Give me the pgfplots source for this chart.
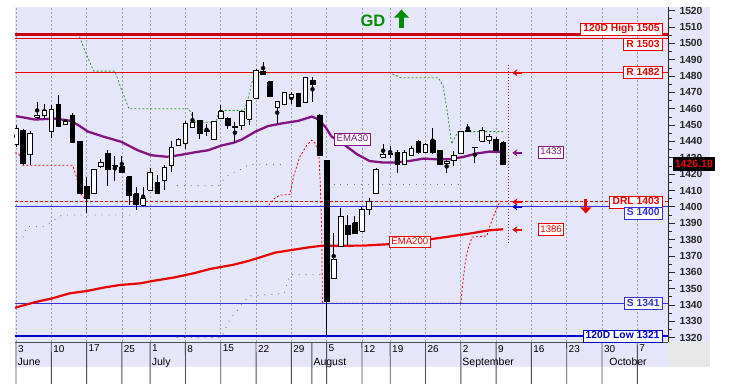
\documentclass[border=0pt]{standalone}
\usepackage{fontspec}
\setmainfont{Liberation Sans}
\usepackage{pgfplots}
\usepackage{pgfplotstable}
\pgfplotsset{compat=1.18}
\usetikzlibrary{arrows.meta}
\definecolor{lav}{RGB}{230,230,250}
\definecolor{cornergrey}{RGB}{232,232,232}
\definecolor{emapurple}{RGB}{130,20,130}
\definecolor{lred}{RGB}{235,0,0}
\definecolor{hred}{RGB}{205,0,20}
\definecolor{lblue}{RGB}{50,50,215}
\definecolor{dblue}{RGB}{0,0,200}
\definecolor{ggreen}{RGB}{40,150,40}
\definecolor{gdgreen}{RGB}{0,140,0}
\definecolor{bandgrey}{RGB}{110,110,170}
\definecolor{gridgrey}{RGB}{160,160,170}

\pgfplotstableread{
k o h l c
0 1438 1450 1436.5 1448
1 1447 1447.5 1425.5 1426.5
2 1432 1446.5 1425.5 1445
3 1455 1464 1454 1456
4 1456 1463 1454 1459
5 1446 1462 1442 1459.6
6 1462.6 1468.3 1449 1449.4
7 1450.6 1454 1450 1452
8 1456 1457.5 1439 1439.2
9 1440 1440 1408 1408.2
10 1412.7 1418.4 1396.4 1405.1
11 1408.2 1423 1408 1422.9
12 1424.5 1429 1423.5 1427.5
13 1432.6 1435 1412.7 1423
14 1425 1431 1416 1425.5
15 1424.5 1431 1421.4 1421.4
16 1418.4 1418.4 1401 1407.2
17 1408 1412 1398 1401.7
18 1401 1412 1400.5 1405
19 1410 1424 1409.8 1421.4
20 1414.7 1419.4 1408 1408.2
21 1416 1425.5 1410.2 1424
22 1425.5 1440 1421.4 1436.3
23 1437.7 1442 1437.5 1441.2
24 1439 1452.7 1435.4 1451
25 1448.7 1458 1448 1451.7
26 1452.7 1452.7 1441.5 1445.2
27 1446 1450.7 1443.6 1446.5
28 1441.5 1452.5 1441 1452.3
29 1454.2 1462.3 1453.8 1458.2
30 1454.2 1455 1447.7 1450
31 1448.5 1451.7 1439 1449.1
32 1449.7 1458.5 1447.2 1458.2
33 1453.8 1465.5 1450 1465
34 1466.3 1484.6 1466 1483.6
35 1483 1488.7 1481 1481.2
36 1476.5 1476.5 1467 1467.3
37 1460.9 1464.5 1450.7 1464.4
38 1462.7 1470 1462.5 1470
39 1466.7 1470 1463.2 1468.7
40 1469.3 1469.5 1461 1461.2
41 1464 1479 1463.5 1479
42 1477.4 1479.5 1464.3 1474.8
43 1456.2 1456.5 1431 1431.3
44 1428.3 1428.3 1321.5 1342
45 1356 1384 1355.7 1368
46 1376 1399 1376 1394
47 1388.4 1395 1376 1383
48 1390.4 1394.5 1383.5 1383.7
49 1385 1400 1385 1398.6
50 1398.2 1405.3 1395 1403.2
51 1408 1423.5 1408 1423
52 1430.2 1438.7 1430 1432.2
53 1432 1437 1430 1433
54 1433.2 1434.6 1421 1426
55 1425.7 1434.6 1425.5 1433.2
56 1431.2 1437.3 1431 1435.9
57 1439.9 1440.8 1432.6 1433.2
58 1433.2 1439 1433 1438.3
59 1440.8 1448.5 1432.6 1433.2
60 1434.6 1435 1426 1426.1
61 1426.5 1428.5 1421 1428.1
62 1428.5 1434.2 1425 1431.2
63 1432.6 1446.5 1432.5 1446
64 1446 1450.5 1445.5 1446.5
65 1436.3 1436.8 1427 1436.6
66 1440 1449 1440 1447
67 1440.8 1444.8 1438.7 1443.4
68 1441.4 1442.8 1434.5 1434.6
69 1439.3 1440.4 1426 1426.1
}\ohlc

\pgfplotstableread{
k v
0 1455.5
2.7 1453.4
5.5 1454
7.8 1452.6
9 1449.5
10.2 1446
12.5 1442.8
14.9 1439.8
17.2 1434.7
19.1 1431.6
21.4 1430.6
23.1 1431.6
25.4 1433.4
27.2 1434.6
29.1 1437.5
30.8 1439.2
32 1441.2
33.9 1446
35.7 1449.4
37.6 1451
40 1452.6
41.9 1455.2
42.6 1454
43.8 1449
44.7 1443
46.4 1438.3
48.3 1432.2
50.1 1428
52 1427.1
53.9 1427.1
55.8 1428.1
57.7 1429.5
59.6 1429.1
61.5 1429.1
63.4 1430.6
65.2 1432.6
67.1 1433.8
69 1433.6
}\emathirty

\pgfplotstableread{
k v
-0.14 1338.3
2.6 1341.6
5.1 1344
7.6 1347.1
10 1348.5
12.4 1350.6
14.7 1352.2
17.6 1353.2
19.4 1354.7
22.4 1356.8
25.1 1359.3
27.5 1362
30.8 1364.6
33 1367
36.7 1372
41.4 1375.2
43.3 1376.2
45 1376.2
49.2 1376.3
53 1377.2
57.7 1379.6
61 1381.6
64.3 1383.7
67.1 1385.7
69 1386.3
}\ematwohundred

\pgfplotstableread{
k v
9 1504
10 1493
11 1483
14 1483
15 1471
16 1460
24.5 1460
25.3 1452
28.3 1451.5
28.8 1459
32.3 1459
32.8 1465
33.4 1476
33.9 1482
53 1482
54.5 1479
59.8 1479
60.5 1474
61.2 1455
61.7 1438.5
62.6 1446
69 1446
}\greenstop

\begin{document}
\begin{tikzpicture}
\fill[lav] (0pt,-25pt) rectangle (695pt,335pt);
\fill[cornergrey] (653pt,-25pt) rectangle (695pt,0pt);
\path[use as bounding box] (-15pt,-41pt) rectangle (716pt,342pt);
\begin{axis}[
  at={(0pt,0pt)}, anchor=south west,
  scale only axis, width=653pt, height=335pt,
  xmin=-0.14, xmax=92.35, ymin=1317.3, ymax=1522.2,
  clip mode=individual,
  axis y line*=right, axis x line*=bottom,
  y axis line style={black!85, line width=0.8pt},
  x axis line style={black!70, line width=0.9pt},
  tick align=outside,
  ytick={1320,1330,...,1520},
  minor y tick num=1,
  major tick length=7pt, minor tick length=4pt,
  ytick style={black!85, line width=0.7pt},
  yticklabel style={font=\fontsize{10.3}{12}\selectfont\bfseries, text=black!85, anchor=west, xshift=1pt},
  /pgf/number format/assume math mode=true,
  /pgf/number format/1000 sep={},
  xtick={0,5,10,15,19,24,29,34,39,44,49,53,58,63,68,73,78,83,88},
  xticklabels={3,10,17,25,1,8,15,22,29,5,12,19,26,2,9,16,23,30,7},
  x tick style={draw=none},
  xticklabel style={font=\fontsize{10}{12}\selectfont, anchor=north west, xshift=-1.5pt, yshift=7.5pt},
  xmajorgrids,
  major grid style={gridgrey, dash pattern=on 2pt off 2pt, line width=0.6pt},
]
% grey channel dots
\addplot[bandgrey, line width=0.9pt, dash pattern=on 0.9pt off 6pt] coordinates {(0,1381.5) (1,1381.5) (1.5,1388) (4,1388) (6.5,1395) (17,1395)};
\addplot[bandgrey, line width=0.9pt, dash pattern=on 0.9pt off 6pt] coordinates {(22.8,1413) (28.7,1413) (29.8,1418.7) (30.8,1421) (32,1423.2) (33,1426) (38,1426)};
\addplot[bandgrey, line width=0.9pt, dash pattern=on 0.9pt off 6pt] coordinates {(44,1413.5) (63,1413.5)};
\addplot[bandgrey, line width=0.9pt, dash pattern=on 0.9pt off 6pt] coordinates {(22.8,1320) (29.1,1320) (30.3,1331.3) (31.3,1336.4) (32,1340.5) (33,1345.5) (38,1347) (38.8,1358.5) (43.1,1358.5)};
\addplot[bandgrey, line width=0.9pt, dash pattern=on 0.9pt off 6pt] coordinates {(44,1321) (63,1321)};
% red trailing stop
\addplot[lred, line width=0.8pt, dash pattern=on 2pt off 2pt] coordinates {(-0.14,1433) (0.4,1432.5) (0.9,1425.5) (8,1425.5) (8.6,1418) (9.1,1408.5) (9.8,1404.5) (10.3,1403)};
\addplot[lred, line width=0.8pt, dash pattern=on 2pt off 2pt] coordinates {(35.8,1401) (36.5,1404.8) (37.4,1407.2) (38.8,1407.5) (39.3,1418.4) (40.2,1430.6) (41.2,1437.8) (41.9,1440.8) (42.4,1438.8) (42.9,1431.7) (43.1,1414.3) (43.3,1385.8) (43.4,1341) (63,1341) (63.2,1350) (63.6,1365) (64,1374) (64.6,1381.5) (66.7,1382.2) (67.1,1388) (67.8,1396) (68.6,1403.7)};
% green trailing stop
\addplot[ggreen, line width=0.8pt, dash pattern=on 2pt off 2pt] table[x=k,y=v]{\greenstop};
% horizontal levels
\addplot[hred, line width=2.6pt] coordinates {(-0.14,1505.4) (92.35,1505.4)};
\addplot[lred, line width=1pt] coordinates {(-0.14,1503) (92.35,1503)};
\addplot[lred, line width=1pt] coordinates {(-0.14,1482) (92.35,1482)};
\addplot[lred, line width=0.9pt, dash pattern=on 3pt off 2pt] coordinates {(-0.14,1403) (92.35,1403)};
\addplot[lblue, line width=0.9pt] coordinates {(-0.14,1400) (92.35,1400)};
\addplot[lblue, line width=0.9pt] coordinates {(-0.14,1341) (92.35,1341)};
\addplot[dblue, line width=2pt] coordinates {(-0.14,1321) (92.35,1321)};
% moving averages
\addplot[lred, line width=2.2pt] table[x=k,y=v]{\ematwohundred};
\addplot[emapurple, line width=2.3pt] table[x=k,y=v]{\emathirty};
% projection line
\addplot[emapurple, line width=1pt, dash pattern=on 1pt off 2pt] coordinates {(69.75,1378) (69.75,1487)};
% wicks
\addplot[forget plot, only marks, mark=none, error bars/.cd, y dir=both, y explicit,
  error bar style={draw=black, line width=0.9pt}, error mark=none]
  table[x=k, y expr={(\thisrow{h}+\thisrow{l})/2}, y error expr={(\thisrow{h}-\thisrow{l})/2}]{\ohlc};
% bodies
\pgfplotsinvokeforeach{0,...,69}{%
  \pgfplotstablegetelem{#1}{k}\of\ohlc \let\K\pgfplotsretval
  \pgfplotstablegetelem{#1}{o}\of\ohlc \let\O\pgfplotsretval
  \pgfplotstablegetelem{#1}{c}\of\ohlc \let\C\pgfplotsretval
  \pgfmathsetmacro\XL{\K-0.33}%
  \pgfmathsetmacro\XR{\K+0.33}%
  \pgfmathtruncatemacro\isdown{\C<\O ? 1 : 0}%
  \ifnum\isdown=1 \def\fc{black}\else\def\fc{white}\fi
  \edef\doit{\noexpand\addplot[forget plot, draw=black, line width=0.7pt, fill=\fc] coordinates {(\XL,\O) (\XR,\O) (\XR,\C) (\XL,\C) (\XL,\O)};}%
  \doit
}
% date table
\draw[black!70, line width=0.9pt] (axis cs:-0.14,1317.3) ++(0,-13.8pt) -- ++(653pt,0);
\pgfplotsinvokeforeach{0,5,10,15,19,24,29,34,39,41.9,44,49,53,58,63,68,73,78,83,88}{%
  \draw[black!70, line width=0.9pt] (axis cs:#1,1317.3) -- ++(0,-13.8pt);}
\pgfplotsinvokeforeach{0,19,41.9,63,83.8}{%
  \draw[black!70, line width=0.9pt] (axis cs:#1,1317.3) ++(0,-13.8pt) -- ++(0,-11.5pt);}
\node[anchor=base west, font=\fontsize{10.5}{12}\selectfont, inner sep=0pt] at ([xshift=1.5pt,yshift=-23.2pt]axis cs:0,1317.3) {June};
\node[anchor=base west, font=\fontsize{10.5}{12}\selectfont, inner sep=0pt] at ([xshift=1.5pt,yshift=-23.2pt]axis cs:19,1317.3) {July};
\node[anchor=base west, font=\fontsize{10.5}{12}\selectfont, inner sep=0pt] at ([xshift=1.5pt,yshift=-23.2pt]axis cs:41.9,1317.3) {August};
\node[anchor=base west, font=\fontsize{10.5}{12}\selectfont, inner sep=0pt] at ([xshift=1.5pt,yshift=-23.2pt]axis cs:63,1317.3) {September};
\node[anchor=base west, font=\fontsize{10.5}{12}\selectfont, inner sep=0pt] at ([xshift=1.5pt,yshift=-23.2pt]axis cs:83.8,1317.3) {October};
% level labels
\tikzset{lab/.style={draw=#1, text=#1, fill=white, line width=0.7pt, inner xsep=2.8pt, inner ysep=1.2pt, text height=7.6pt, text depth=2pt, font=\fontsize{10.3}{12}\selectfont\bfseries},
 slab/.style={draw=#1, text=#1, fill=white, line width=0.7pt, inner xsep=2pt, inner ysep=1.2pt, text height=7.4pt, text depth=2pt, font=\fontsize{9.6}{12}\selectfont}}
\node[lab=lred, anchor=south east] at (axis cs:91.6,1504.8) {120D High 1505};
\node[lab=lred, anchor=north east] at (axis cs:91.6,1503) {R 1503};
\node[lab=lred, anchor=east] at (axis cs:91.6,1482) {R 1482};
\node[lab=lred, anchor=east] at (axis cs:91.6,1403) {DRL 1403};
\node[lab=lblue, anchor=north east] at (axis cs:91.6,1400) {S 1400};
\node[lab=lblue, anchor=east] at (axis cs:91.6,1341) {S 1341};
\node[lab=dblue, anchor=east] at (axis cs:91.6,1321) {120D Low 1321};
\node[slab=emapurple] at (axis cs:47.66,1441.4) {EMA30};
\node[slab=lred] at (axis cs:55.78,1378.6) {EMA200};
\node[slab=emapurple] at (axis cs:75.8,1433.5) {1433};
\node[slab=lred] at (axis cs:75.8,1386.1) {1386};
% arrows at projection line
\draw[lred, line width=1.8pt, -{Stealth[length=5pt,width=7pt]}] (axis cs:71.7,1482) -- (axis cs:70.3,1482);
\draw[emapurple, line width=1.8pt, -{Stealth[length=5pt,width=7pt]}] (axis cs:71.7,1433) -- (axis cs:70.3,1433);
\draw[lred, line width=1.8pt, -{Stealth[length=5pt,width=7pt]}] (axis cs:71.7,1403) -- (axis cs:70.3,1403);
\draw[dblue, line width=1.8pt, -{Stealth[length=5pt,width=7pt]}] (axis cs:71.7,1400) -- (axis cs:70.3,1400);
\draw[lred, line width=1.8pt, -{Stealth[length=5pt,width=7pt]}] (axis cs:71.7,1386) -- (axis cs:70.3,1386);
\draw[lred, line width=3pt, -{Triangle[length=6pt,width=11pt]}] (axis cs:80.7,1405) -- (axis cs:80.7,1396);
% GD signal
\node[font=\fontsize{16.5}{18}\selectfont\bfseries, text=gdgreen] at (axis cs:50.57,1513.7) {GD};
\draw[gdgreen, line width=4.5pt, -{Triangle[length=8pt,width=15pt]}] (axis cs:54.6,1509.2) -- (axis cs:54.6,1520.6);
% last price
\node[anchor=west, fill=black, text=lred, font=\fontsize{10.5}{12}\selectfont\bfseries, inner xsep=2pt, inner ysep=3pt] at ([xshift=4.7pt]axis cs:92.35,1426.1) {1426.10};
\end{axis}
\end{tikzpicture}
\end{document}
